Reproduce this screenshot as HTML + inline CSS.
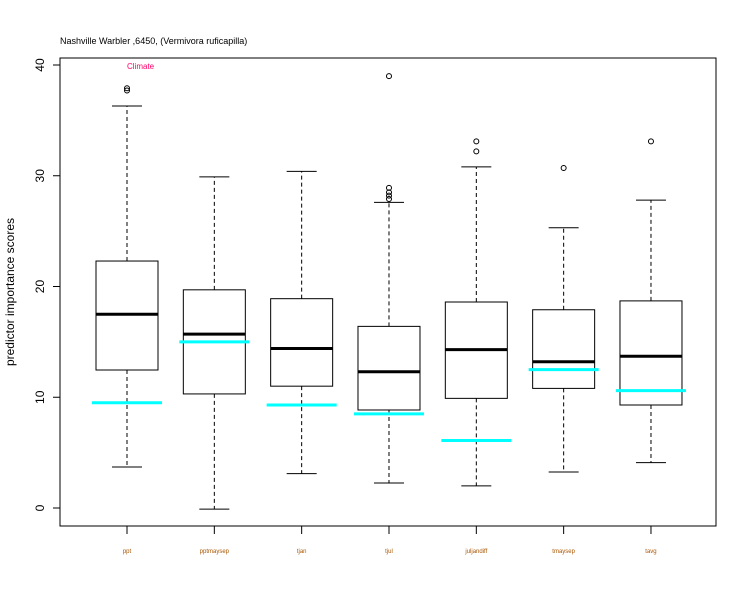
<!DOCTYPE html>
<html><head><meta charset="utf-8"><style>
body{margin:0;background:#fff}
svg{display:block;font-family:"Liberation Sans",sans-serif}
</style></head><body>
<svg id="chart" width="750" height="600" viewBox="0 0 750 600" xmlns="http://www.w3.org/2000/svg">
<rect width="750" height="600" fill="#fff"/>
<text x="60" y="44" font-size="9">Nashville Warbler ,6450, (Vermivora ruficapilla)</text>
<text x="127" y="69" font-size="8" fill="#ff0066">Climate</text>
<rect x="60" y="58" width="656" height="468" fill="none" stroke="#000" stroke-width="1"/>
<text transform="translate(14,292) rotate(-90)" font-size="12" text-anchor="middle">predictor importance scores</text>
<g id="yaxis"></g>
<g id="boxes"></g>
</svg>
<script>
const categories=["ppt","pptmaysep","tjan","tjul","juljandiff","tmaysep","tavg"];
const whiskerLow=[3.7,-0.1,3.1,2.26,2.0,3.25,4.1];
const q1=[12.46,10.3,11.0,8.85,9.9,10.8,9.3];
const medians=[17.5,15.7,14.4,12.3,14.3,13.2,13.7];
const q3=[22.3,19.7,18.9,16.4,18.6,17.9,18.7];
const whiskerHigh=[36.3,29.9,30.4,27.6,30.8,25.3,27.8];
const outliers=[[37.9,37.7],[],[],[39.0,28.9,28.5,28.2,27.9],[33.1,32.2],[30.7],[33.1]];
const cyanValues=[9.5,15.0,9.3,8.5,6.1,12.5,10.6];
const yTicks=[0,10,20,30,40];

const NS="http://www.w3.org/2000/svg";
function y(v){return 508-v*11.075;}
function x(i){return 127+i*87.33;}
function mk(tag,attrs,parent){const e=document.createElementNS(NS,tag);for(const k in attrs)e.setAttribute(k,attrs[k]);parent.appendChild(e);return e;}
const ya=document.getElementById('yaxis');
const bx=document.getElementById('boxes');
for(const t of yTicks){
  const l=mk('line',{x1:53,x2:60,y1:y(t),y2:y(t),stroke:'#000'},ya);
  
  
  const tx=mk('text',{x:40,y:y(t)+4,'font-size':12,'text-anchor':'middle',transform:`rotate(-90,40,${y(t)})`},ya);
  tx.textContent=t;
  
  
}
const hw=31;
categories.forEach((c,i)=>{
  const cx=x(i);
  const g=mk('g',{},bx);
  
  
  mk('line',{x1:cx,x2:cx,y1:y(q3[i]),y2:y(whiskerHigh[i]),stroke:'#000','stroke-dasharray':'4,3'},g);
  mk('line',{x1:cx,x2:cx,y1:y(q1[i]),y2:y(whiskerLow[i]),stroke:'#000','stroke-dasharray':'4,3'},g);
  mk('line',{x1:cx-15,x2:cx+15,y1:y(whiskerHigh[i]),y2:y(whiskerHigh[i]),stroke:'#000'},g);
  mk('line',{x1:cx-15,x2:cx+15,y1:y(whiskerLow[i]),y2:y(whiskerLow[i]),stroke:'#000'},g);
  mk('rect',{x:cx-hw,y:y(q3[i]),width:hw*2,height:y(q1[i])-y(q3[i]),fill:'none',stroke:'#000'},g);
  const m=mk('line',{x1:cx-hw,x2:cx+hw,y1:y(medians[i]),y2:y(medians[i]),stroke:'#000','stroke-width':3},g);
  
  
  outliers[i].forEach(o=>{
    const p=mk('circle',{cx:cx,cy:y(o),r:2.5,fill:'none',stroke:'#000'},g);
    
    
  });
  const cl=mk('line',{x1:cx-35,x2:cx+35,y1:y(cyanValues[i]),y2:y(cyanValues[i]),stroke:'#00ffff','stroke-width':3},g);
  
  
  mk('line',{x1:cx,x2:cx,y1:526,y2:534,stroke:'#000'},g);
  const lb=mk('text',{x:cx,y:553,'font-size':6,'text-anchor':'middle',fill:'#aa5500'},g);
  lb.textContent=c;
  
  
});
</script>
</body></html>
